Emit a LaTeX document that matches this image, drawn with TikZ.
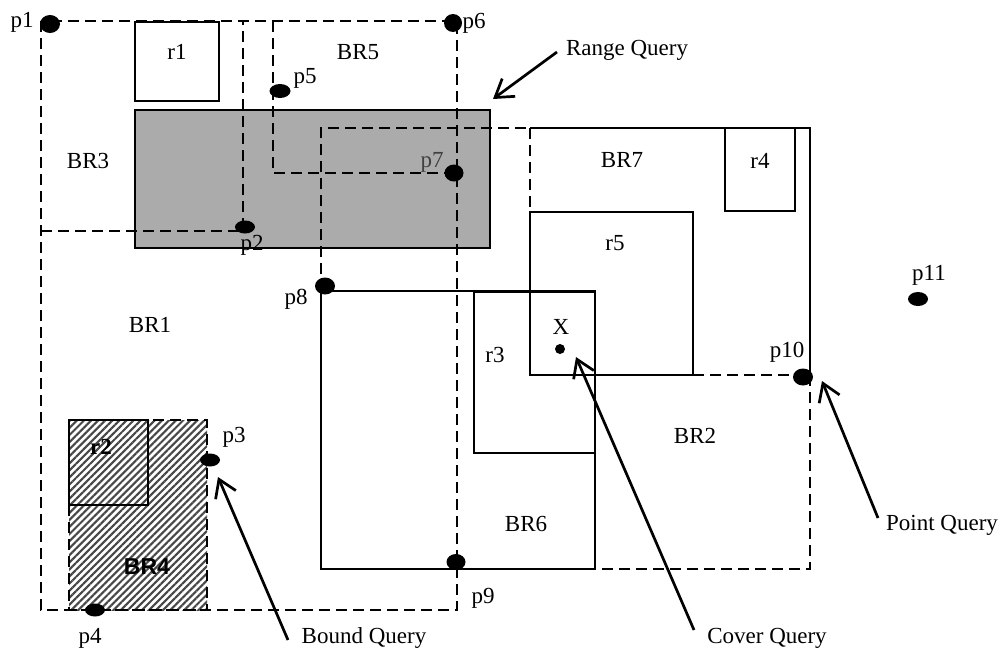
\documentclass[tikz,border=0pt]{standalone}
\usepackage{fontspec}
\setmainfont{Liberation Serif}
\newfontfamily\sansbf{Liberation Sans}
\usetikzlibrary{arrows.meta,patterns.meta,shapes.geometric}
\definecolor{rangegray}{HTML}{ABABAB}
\begin{document}
\begin{tikzpicture}[x=1pt,y=-1pt,
  font=\fontsize{23}{27}\selectfont,
  dsh/.style={draw, line width=2.9pt, dash pattern=on 11pt off 6pt},
  sld/.style={draw, line width=2.8pt},
  dot/.style={ellipse, fill=black, inner sep=0pt, minimum width=20pt, minimum height=14pt},
  lbl/.style={inner sep=0pt},
  qarrow/.style={line width=2.7pt, -{Straight Barb[length=17pt,width=22pt,line width=2.7pt]}}
]
\useasboundingbox[fill=white] (0,0) rectangle (1008,653);

% hatched BR4
\fill[pattern={Lines[angle=45,distance=5pt,line width=2.1pt]}, pattern color=black!72] (69,420) rectangle (207,610);

% range query rectangle
\filldraw[fill=rangegray, line width=2.8pt] (135,110) rectangle (490,248);

% dashed bounding rectangles
\path[dsh] (41,21) rectangle (457,610);          % BR1
\path[dsh] (41,231) -| (243,21);                 % BR3
\path[dsh] (273,21) |- (457,173);                % BR5
\path[dsh] (321,291) -- (321,128) -- (810,128);  % BR2 top/left
\path[dsh] (810,375) -- (810,569) -- (595,569);  % BR2 right/bottom
\path[dsh] (530,128) -- (530,212);               % BR7 left
\path[dsh] (693,375) -- (810,375);               % BR7 bottom
\path[dsh] (69,420) rectangle (207,610);         % BR4

% solid rectangles
\path[sld] (135,22) rectangle (219,101);         % r1
\path[sld] (69,420) rectangle (148,505);         % r2
\path[sld] (321,291) rectangle (595,569);        % BR6
\path[sld] (474,292) rectangle (595,453);        % r3
\path[sld] (530,212) rectangle (693,375);        % r5
\path[sld] (725,128) rectangle (795,211);        % r4
\path[sld] (530,128) -- (810,128) -- (810,375);  % BR7 top/right

% points
\node[dot, minimum width=20pt, minimum height=18pt] (p1) at (50,24) {};
\node[dot, minimum height=13pt] (p2) at (245,227) {};
\node[dot, minimum height=13pt] (p3) at (210,460) {};
\node[dot, minimum height=13pt] (p4) at (95,610) {};
\node[dot, minimum width=21pt, minimum height=14pt] (p5) at (280,91) {};
\node[dot, minimum width=18pt, minimum height=18pt] (p6) at (453,23) {};
\node[dot, minimum width=19pt, minimum height=17pt] (p7) at (454,173) {};
\node[dot, minimum width=20pt, minimum height=17pt] (p8) at (325,286) {};
\node[dot, minimum width=19pt, minimum height=16pt] (p9) at (456,562) {};
\node[dot, minimum width=20pt, minimum height=17pt] (p10) at (803,377) {};
\node[dot, minimum width=20pt, minimum height=14pt] (p11) at (918,299) {};
\node[dot, minimum width=10pt, minimum height=10pt] (xq) at (560,349) {};

% point labels
\node[lbl] (lp1) at (22,22) {p1};
\node[lbl] (lp2) at (252,245) {p2};
\node[lbl] (lp3) at (234,437) {p3};
\node[lbl] (lp4) at (90,638) {p4};
\node[lbl] (lp5) at (305,78) {p5};
\node[lbl] (lp6) at (474,23) {p6};
\node[lbl, text=black!75] (lp7) at (432,162) {p7};
\node[lbl] (lp8) at (296,299) {p8};
\node[lbl] (lp9) at (483,598) {p9};
\node[lbl] (lp10) at (787,352) {p10};
\node[lbl] (lp11) at (929,275) {p11};
\node[lbl] (lx) at (561,327) {X};

% region labels
\node[lbl] (br1) at (150,325) {BR1};
\node[lbl] (br2) at (695,436) {BR2};
\node[lbl] (br3) at (88,161) {BR3};
\node[lbl] (br4) at (147,567) {\sansbf\bfseries BR4};
\node[lbl] (br5) at (358,52) {BR5};
\node[lbl] (br6) at (526,524) {BR6};
\node[lbl] (br7) at (622,160) {BR7};
\node[lbl] (r1) at (177,52) {r1};
\node[lbl] (r2) at (101,447) {\bfseries r2};
\node[lbl] (r3) at (495,355) {r3};
\node[lbl] (r4) at (760,161) {r4};
\node[lbl] (r5) at (615,243) {r5};

% query labels and arrows
\node[lbl] (rq) at (627,50) {Range Query};
\node[lbl] (bq) at (364,638) {Bound Query};
\node[lbl] (cq) at (767,638) {Cover Query};
\node[lbl] (pq) at (942,525) {Point Query};

\coordinate (rqT) at (557,52);  \coordinate (rqH) at (493,99);
\coordinate (bqT) at (288,640); \coordinate (bqH) at (218,477);
\coordinate (cqT) at (694,630); \coordinate (cqH) at (576,357);
\coordinate (pqT) at (878,518); \coordinate (pqH) at (822,381);

\draw[qarrow] (rqT) -- (rqH);
\draw[qarrow] (bqT) -- (bqH);
\draw[qarrow] (cqT) -- (cqH);
\draw[qarrow] (pqT) -- (pqH);
\end{tikzpicture}
\end{document}
